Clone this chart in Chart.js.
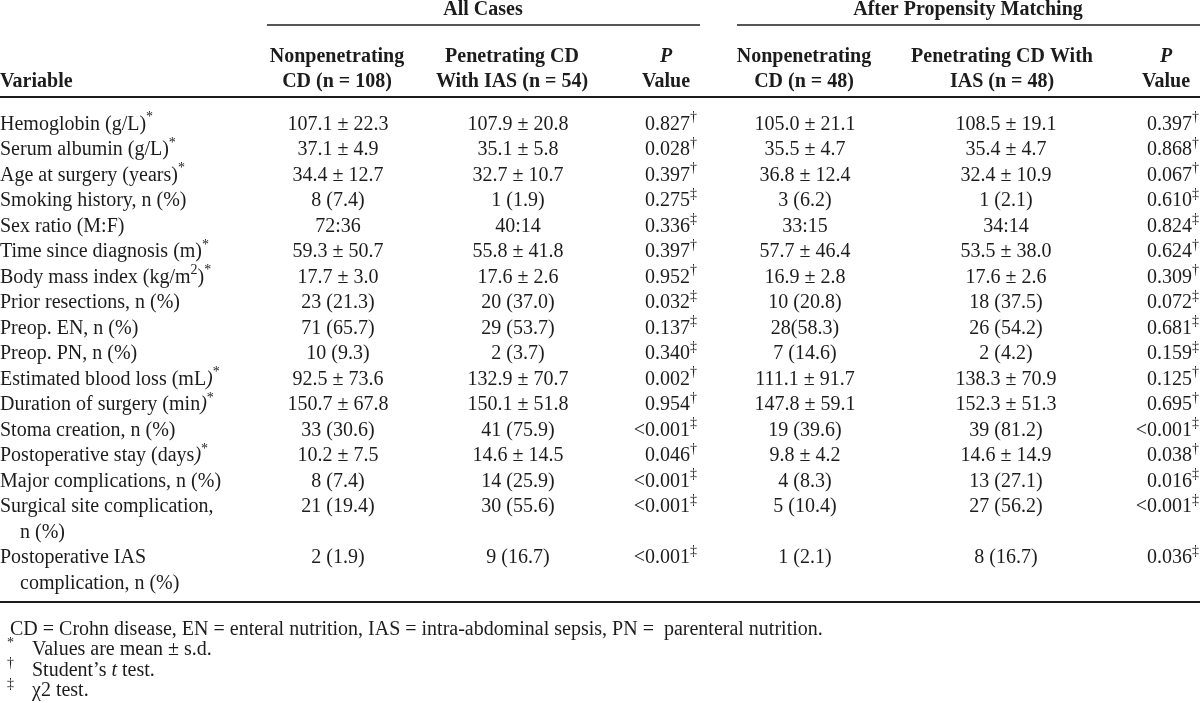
<!DOCTYPE html>
<html>
<head>
<meta charset="utf-8">
<title>Crohn disease table</title>
<script src="https://cdn.jsdelivr.net/npm/chart.js@4.4.0/dist/chart.umd.min.js"></script>
<style>
  html, body { margin: 0; padding: 0; background: #fff; }
  #wrap { width: 1200px; height: 703px; position: relative; }
</style>
</head>
<body>
<div id="wrap"><canvas id="tabla"></canvas></div>
<script>
// ^{..} superscript, ~{..} italic, !{..} bold italic, | new line
const variables = [
  'Hemoglobin (g/L)^{*}',
  'Serum albumin (g/L)^{*}',
  'Age at surgery (years)^{*}',
  'Smoking history, n (%)',
  'Sex ratio (M:F)',
  'Time since diagnosis (m)^{*}',
  'Body mass index (kg/m^{2})^{*}',
  'Prior resections, n (%)',
  'Preop. EN, n (%)',
  'Preop. PN, n (%)',
  'Estimated blood loss (mL~{)}^{*}',
  'Duration of surgery (min~{)}^{*}',
  'Stoma creation, n (%)',
  'Postoperative stay (days~{)}^{*}',
  'Major complications, n (%)',
  'Surgical site complication,|    n (%)',
  'Postoperative IAS|    complication, n (%)'
];

const allNonpen = ['107.1 ± 22.3', '37.1 ± 4.9', '34.4 ± 12.7', '8 (7.4)', '72:36', '59.3 ± 50.7', '17.7 ± 3.0',
  '23 (21.3)', '71 (65.7)', '10 (9.3)', '92.5 ± 73.6', '150.7 ± 67.8', '33 (30.6)', '10.2 ± 7.5', '8 (7.4)',
  '21 (19.4)', '2 (1.9)'];
const allPen = ['107.9 ± 20.8', '35.1 ± 5.8', '32.7 ± 10.7', '1 (1.9)', '40:14', '55.8 ± 41.8', '17.6 ± 2.6',
  '20 (37.0)', '29 (53.7)', '2 (3.7)', '132.9 ± 70.7', '150.1 ± 51.8', '41 (75.9)', '14.6 ± 14.5', '14 (25.9)',
  '30 (55.6)', '9 (16.7)'];
const allP = ['0.827^{†}', '0.028^{†}', '0.397^{†}', '0.275^{‡}', '0.336^{‡}', '0.397^{†}', '0.952^{†}',
  '0.032^{‡}', '0.137^{‡}', '0.340^{‡}', '0.002^{†}', '0.954^{†}', '<0.001^{‡}', '0.046^{†}', '<0.001^{‡}',
  '<0.001^{‡}', '<0.001^{‡}'];
const pmNonpen = ['105.0 ± 21.1', '35.5 ± 4.7', '36.8 ± 12.4', '3 (6.2)', '33:15', '57.7 ± 46.4', '16.9 ± 2.8',
  '10 (20.8)', '28(58.3)', '7 (14.6)', '111.1 ± 91.7', '147.8 ± 59.1', '19 (39.6)', '9.8 ± 4.2', '4 (8.3)',
  '5 (10.4)', '1 (2.1)'];
const pmPen = ['108.5 ± 19.1', '35.4 ± 4.7', '32.4 ± 10.9', '1 (2.1)', '34:14', '53.5 ± 38.0', '17.6 ± 2.6',
  '18 (37.5)', '26 (54.2)', '2 (4.2)', '138.3 ± 70.9', '152.3 ± 51.3', '39 (81.2)', '14.6 ± 14.9', '13 (27.1)',
  '27 (56.2)', '8 (16.7)'];
const pmP = ['0.397^{†}', '0.868^{†}', '0.067^{†}', '0.610^{‡}', '0.824^{‡}', '0.624^{†}', '0.309^{†}',
  '0.072^{‡}', '0.681^{‡}', '0.159^{‡}', '0.125^{†}', '0.695^{†}', '<0.001^{‡}', '0.038^{†}', '0.016^{‡}',
  '<0.001^{‡}', '0.036^{‡}'];

const groupTitles = ['All Cases', 'After Propensity Matching'];
const columnHeaders = [
  ['', 'Variable'],
  ['Nonpenetrating', 'CD (n = 108)'],
  ['Penetrating CD', 'With IAS (n = 54)'],
  ['!{P}', 'Value'],
  ['Nonpenetrating', 'CD (n = 48)'],
  ['Penetrating CD With', 'IAS (n = 48)'],
  ['!{P}', 'Value']
];
const footnoteMarks = ['', '*', '†', '‡'];
const footnotes = [
  'CD = Crohn disease, EN = enteral nutrition, IAS = intra-abdominal sepsis, PN =  parenteral nutrition.',
  'Values are mean ± s.d.',
  'Student’s ~{t} test.',
  'χ2 test.'
];

// layout (pixels on the 1200 x 703 scales)
const FAMILY = '"Liberation Serif", "Times New Roman", serif';
const FONT_SIZE = 20;
const COL_X = [0, 338, 518, 697, 805, 1006, 1199];
const COL_ALIGN = ['left', 'center', 'center', 'right', 'center', 'center', 'right'];
const HEAD_X = [0, 337, 512, 666, 804, 1002, 1166];
const HEAD_ALIGN = ['left', 'center', 'center', 'center', 'center', 'center', 'center'];
const GROUP_X = [483, 968];
const GROUP_RULES = [[267, 700], [737, 1200]];
const Y_GROUP = 8, Y_GROUP_RULE = 25, Y_HEAD = [55, 80], Y_HEAD_RULE = 97;
const ROW_Y0 = 123, ROW_STEP = 25.5, Y_BOTTOM_RULE = 602, FOOT_Y0 = 628, FOOT_STEP = 20.5;
const FOOT_MARK_X = 7, FOOT_TEXT_X = 32, FOOT_PLAIN_X = 10;
const INK = '#1c1c1c';

function parseRich(str) {
  const parts = [];
  const re = /([\^~!])\{([^}]*)\}/g;
  let last = 0;
  let m;
  while ((m = re.exec(str))) {
    if (m.index > last) parts.push({ t: str.slice(last, m.index), k: 'n' });
    parts.push({ t: m[2], k: m[1] === '^' ? 'sup' : m[1] === '~' ? 'it' : 'bi' });
    last = re.lastIndex;
  }
  if (last < str.length) parts.push({ t: str.slice(last), k: 'n' });
  return parts;
}

function fontFor(kind, bold) {
  const w = bold ? 'bold ' : '';
  if (kind === 'sup') return `${w}${Math.round(FONT_SIZE * 0.7)}px ${FAMILY}`;
  if (kind === 'it') return `italic ${w}${FONT_SIZE}px ${FAMILY}`;
  if (kind === 'bi') return `italic bold ${FONT_SIZE}px ${FAMILY}`;
  return `${w}${FONT_SIZE}px ${FAMILY}`;
}

function drawRich(ctx, str, x, y, align, bold) {
  const parts = parseRich(str);
  let width = 0;
  parts.forEach((p) => {
    ctx.font = fontFor(p.k, bold);
    p.w = ctx.measureText(p.t).width;
    width += p.w;
  });
  let cx = x;
  if (align === 'center') cx = x - width / 2;
  if (align === 'right') cx = x - width;
  const base = y + FONT_SIZE * 0.33;
  parts.forEach((p) => {
    ctx.font = fontFor(p.k, bold);
    ctx.fillText(p.t, cx, p.k === 'sup' ? base - FONT_SIZE * 0.42 : base);
    cx += p.w;
  });
}

// each variable may take more than one text line
const lineIndex = [];
variables.reduce((acc, v) => {
  lineIndex.push(acc);
  return acc + v.split('|').length;
}, 0);

const columns = [variables, allNonpen, allPen, allP, pmNonpen, pmPen, pmP];

const tablePlugin = {
  id: 'tablePlugin',
  afterDatasetsDraw(chart) {
    const { ctx, scales } = chart;
    const px = (v) => scales.x.getPixelForValue(v);
    const py = (v) => scales.y.getPixelForValue(v);
    ctx.save();
    ctx.fillStyle = INK;
    ctx.strokeStyle = INK;
    ctx.textAlign = 'left';
    ctx.textBaseline = 'alphabetic';

    // cells from the dataset points
    chart.data.datasets.forEach((ds, i) => {
      const meta = chart.getDatasetMeta(i);
      meta.data.forEach((pt, j) => {
        ds.cellText[j].split('|').forEach((line, k) => {
          drawRich(ctx, line, pt.x, pt.y + k * (py(ROW_STEP) - py(0)), ds.cellAlign, false);
        });
      });
    });

    // group titles and headers
    groupTitles.forEach((t, i) => drawRich(ctx, t, px(GROUP_X[i]), py(Y_GROUP), 'center', true));
    columnHeaders.forEach((lines, c) => {
      lines.forEach((line, k) => {
        if (line) drawRich(ctx, line, px(HEAD_X[c]), py(Y_HEAD[k]), HEAD_ALIGN[c], true);
      });
    });

    // rules
    const rule = (x0, x1, y, w) => {
      ctx.lineWidth = w;
      ctx.beginPath();
      ctx.moveTo(px(x0), py(y));
      ctx.lineTo(px(x1), py(y));
      ctx.stroke();
    };
    GROUP_RULES.forEach((r) => rule(r[0], r[1], Y_GROUP_RULE, 1.6));
    rule(0, 1200, Y_HEAD_RULE, 2);
    rule(0, 1200, Y_BOTTOM_RULE, 2);

    // footnotes
    footnotes.forEach((f, i) => {
      const y = py(FOOT_Y0 + i * FOOT_STEP);
      if (footnoteMarks[i]) {
        drawRich(ctx, '^{' + footnoteMarks[i] + '}', px(FOOT_MARK_X), y, 'left', false);
        drawRich(ctx, f, px(FOOT_TEXT_X), y, 'left', false);
      } else {
        drawRich(ctx, f, px(FOOT_PLAIN_X), y, 'left', false);
      }
    });
    ctx.restore();
  }
};

new Chart(document.getElementById('tabla'), {
  type: 'scatter',
  data: {
    datasets: columns.map((col, c) => ({
      label: c === 0 ? 'Variable' : 'col' + c,
      cellText: col,
      cellAlign: COL_ALIGN[c],
      data: col.map((_, j) => ({ x: COL_X[c], y: ROW_Y0 + lineIndex[j] * ROW_STEP })),
      pointRadius: 0,
      pointHoverRadius: 0
    }))
  },
  options: {
    responsive: true,
    maintainAspectRatio: false,
    animation: false,
    layout: { padding: 0 },
    plugins: { legend: { display: false }, tooltip: { enabled: false } },
    events: [],
    scales: {
      x: { type: 'linear', min: 0, max: 1200, display: false },
      y: { type: 'linear', min: 0, max: 703, reverse: true, display: false }
    }
  },
  plugins: [tablePlugin]
});
</script>
</body>
</html>
